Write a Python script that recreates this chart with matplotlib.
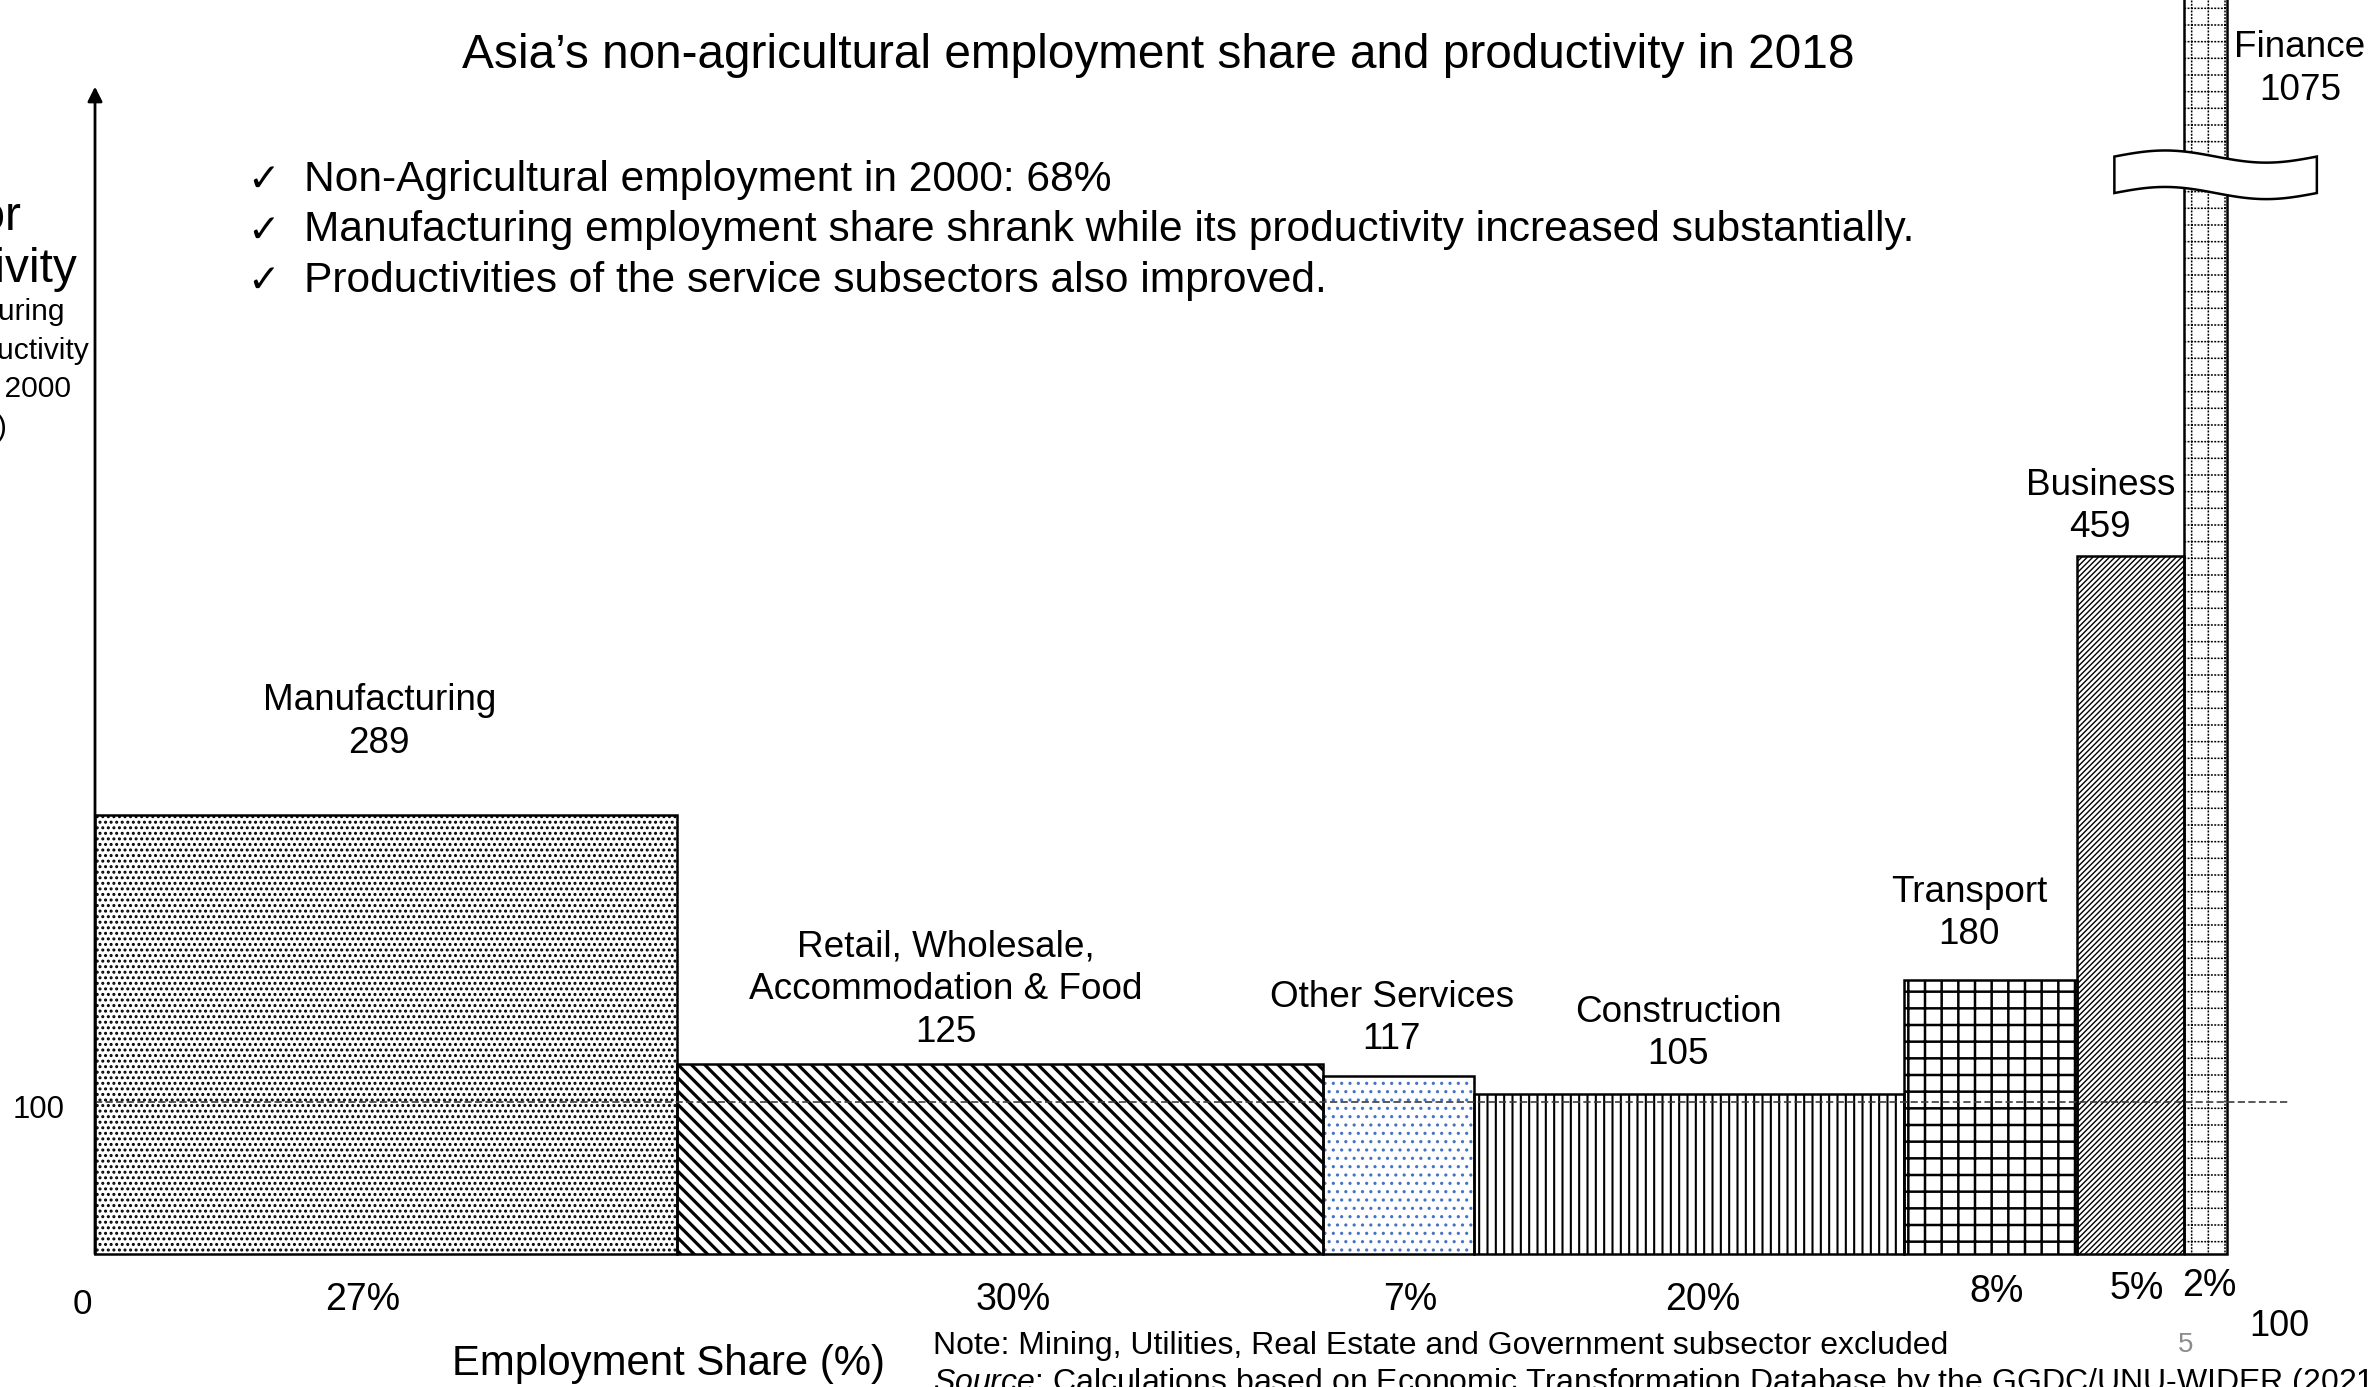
import numpy as np
import matplotlib
matplotlib.use("Agg")
import matplotlib.pyplot as plt
import matplotlib.hatch as mhatch
from matplotlib.path import Path
from matplotlib.patches import Polygon

# ---------------- data ----------------
sectors = ["Manufacturing", "Retail, Wholesale,\nAccommodation & Food", "Other Services",
           "Construction", "Transport", "Business", "Finance"]
shares = [27, 30, 7, 20, 8, 5, 2]                    # employment share (%)
productivity = [289, 125, 117, 105, 180, 459, 1075]  # manufacturing 2000 = 100
baseline_value = 100
bullets = ["Non-Agricultural employment in 2000: 68%",
           "Manufacturing employment share shrank while its productivity increased substantially.",
           "Productivities of the service subsectors also improved."]


# ---------------- custom dotted-grid hatch (used for Finance) ----------------
class DottedGrid(mhatch.HatchPatternBase):
    per_cell = 5

    def __init__(self, hatch, density):
        self.num_lines = int(hatch.count('O') * density)
        self.k = self.num_lines * self.num_lines * self.per_cell
        self.num_vertices = 4 * self.k

    def set_vertices_and_codes(self, vertices, codes):
        n = self.num_lines
        m = n * self.per_cell
        pos = (np.arange(n) + 0.5) / n
        t = (np.arange(m) + 0.5) / m
        P, T = np.meshgrid(pos, t, indexing='ij')
        P = P.ravel(); T = T.ravel()
        k = self.k
        seg = 0.002
        vertices[0:2 * k:2, 0] = T
        vertices[0:2 * k:2, 1] = P
        vertices[1:2 * k:2, 0] = T + seg
        vertices[1:2 * k:2, 1] = P
        vertices[2 * k::2, 0] = P
        vertices[2 * k::2, 1] = T
        vertices[2 * k + 1::2, 0] = P
        vertices[2 * k + 1::2, 1] = T + seg
        codes[0::2] = Path.MOVETO
        codes[1::2] = Path.LINETO


mhatch._hatch_types = [t for t in mhatch._hatch_types if t is not mhatch.LargeCircles] + [DottedGrid]

# ---------------- style ----------------
plt.rcParams['font.family'] = ['Liberation Sans', 'DejaVu Sans']
plt.rcParams['lines.scale_dashes'] = False
plt.rcParams['mathtext.fontset'] = 'custom'
plt.rcParams['mathtext.rm'] = 'Liberation Sans'
plt.rcParams['mathtext.it'] = 'Liberation Sans:italic'

W, H = 2374, 1387
fig = plt.figure(figsize=(W / 200, H / 200), dpi=200)
ax = fig.add_axes([0, 0, 1, 1])
px_per_x = 21.54
px_per_y = 1.52
x0_px, y0_px = 95, 1254
ax.set_xlim(-x0_px / px_per_x, (W - x0_px) / px_per_x)
ax.set_ylim(-(H - y0_px) / px_per_y, y0_px / px_per_y)
ax.axis('off')


def fx(px):
    return px / W


def fy(py):
    return 1 - py / H


hatches = ['......', '\\\\\\\\\\', '....', '||||', '++', '/' * 12, 'OO']
hatch_colors = ['black', 'black', '#4472C4', 'black', 'black', 'black', 'black']
hatch_lws = [0.7, 1.15, 0.55, 0.75, 0.9, 0.5, 0.55]

lefts = np.concatenate([[0], np.cumsum(shares)[:-1]])
for i in range(len(shares)):
    with plt.rc_context({'hatch.linewidth': hatch_lws[i]}):
        b = ax.bar(lefts[i], productivity[i], width=shares[i], align='edge',
                   facecolor='white', edgecolor=hatch_colors[i], linewidth=0,
                   hatch=hatches[i], zorder=2)
        for p in b:
            try:
                p.set_hatch_linewidth(hatch_lws[i])
            except AttributeError:
                pass
    ax.bar(lefts[i], productivity[i], width=shares[i], align='edge',
           facecolor='none', edgecolor='black', linewidth=0.9, zorder=3)

# baseline dashed line at 100
ax.hlines(baseline_value, 0, 101.9, colors='#3c3c3c', linewidth=0.6,
          linestyles=(0, (2.6, 1.2)), zorder=4)

# y axis with arrow
ax.annotate('', xy=(0, 768), xytext=(0, 0),
            arrowprops=dict(arrowstyle='-|>', color='black', lw=1.0,
                            mutation_scale=11, shrinkA=0, shrinkB=0), zorder=5)

# axis break on Finance bar
fin_c = lefts[-1] + shares[-1] / 2 + 0.45
tt = np.linspace(0, 1, 60)
bx = fin_c - 4.7 + 9.4 * tt
top = 722 + 4.0 * np.sin(2 * np.pi * tt)
bot = top - 24
poly = np.vstack([np.column_stack([bx, top]), np.column_stack([bx[::-1], bot[::-1]])])
ax.add_patch(Polygon(poly, closed=True, facecolor='white', edgecolor='black',
                     linewidth=0.9, zorder=6))

# bar labels
label_dx = [-0.3, -2.5, -0.3, -0.5, -1.0, -1.4]
label_gap = [75, 35, 40, 43, 49, 32]
for i in range(len(shares) - 1):
    ax.annotate(f"{sectors[i]}\n{productivity[i]}",
                xy=(lefts[i] + shares[i] / 2 + label_dx[i], productivity[i]),
                xytext=(0, label_gap[i] - 21), textcoords='offset pixels',
                ha='center', va='bottom', fontsize=13.3, linespacing=1.28, zorder=7)
ax.text(fx(2300), fy(69), f"{sectors[-1]}\n{productivity[-1]}", transform=ax.transAxes,
        ha='center', va='center', fontsize=13.3, linespacing=1.28, zorder=7)

# share labels
share_dx = [-1.05, 0.63, 0.56, 0.63, 0.28, 0.28, 0.14]
share_dy = [0, 0, 0, 0, 5, 7, 9]
for i in range(len(shares)):
    ax.text(lefts[i] + shares[i] / 2 + share_dx[i], -30 + share_dy[i], f"{shares[i]}%",
            ha='center', va='center', fontsize=13.5)

# axis tick texts
ax.text(fx(39), fy(1110), "100", transform=ax.transAxes, ha='center', va='center', fontsize=11.2)
ax.text(fx(82), fy(1305), "0", transform=ax.transAxes, ha='center', va='center', fontsize=12.6)
ax.text(fx(2279), fy(1326), "100", transform=ax.transAxes, ha='center', va='center', fontsize=13)

# title
ax.text(fx(1158), fy(56), "Asia\u2019s non-agricultural employment share and productivity in 2018",
        transform=ax.transAxes, ha='center', va='center', fontsize=17.2)

# bullets
for j, s in enumerate(bullets):
    yy = fy(180 + 50.5 * j)
    ax.text(fx(247), yy, "\u2713", transform=ax.transAxes, ha='left', va='center',
            fontsize=14, family=['DejaVu Sans'])
    ax.text(fx(304), yy, s, transform=ax.transAxes, ha='left', va='center', fontsize=15.3)

# y label (partially off-figure, as in reference)
ax.text(fx(-47), fy(244), "Sector\nProductivity", transform=ax.transAxes, ha='center',
        va='center', fontsize=17.2, linespacing=1.2, clip_on=False)
ax.text(fx(-36), fy(370), "(Manufacturing\nSector Productivity\nin the year 2000\n= 100)",
        transform=ax.transAxes, ha='center', va='center', fontsize=10.8, linespacing=1.47,
        clip_on=False)

# x label and notes
ax.text(fx(668), fy(1364), "Employment Share (%)", transform=ax.transAxes, ha='center',
        va='center', fontsize=15.1)
ax.text(fx(933), fy(1346), "Note: Mining, Utilities, Real Estate and Government subsector excluded",
        transform=ax.transAxes, ha='left', va='center', fontsize=11.5)
ax.text(fx(933), fy(1383),
        r"$\mathit{Source}$: Calculations based on Economic Transformation Database by the GGDC/UNU-WIDER (2021)",
        transform=ax.transAxes, ha='left', va='center', fontsize=11.5)
ax.text(fx(2186), fy(1345), "5", transform=ax.transAxes, ha='center', va='center',
        fontsize=10, color='#8c8c8c')

fig.savefig("out.png", dpi=200)
